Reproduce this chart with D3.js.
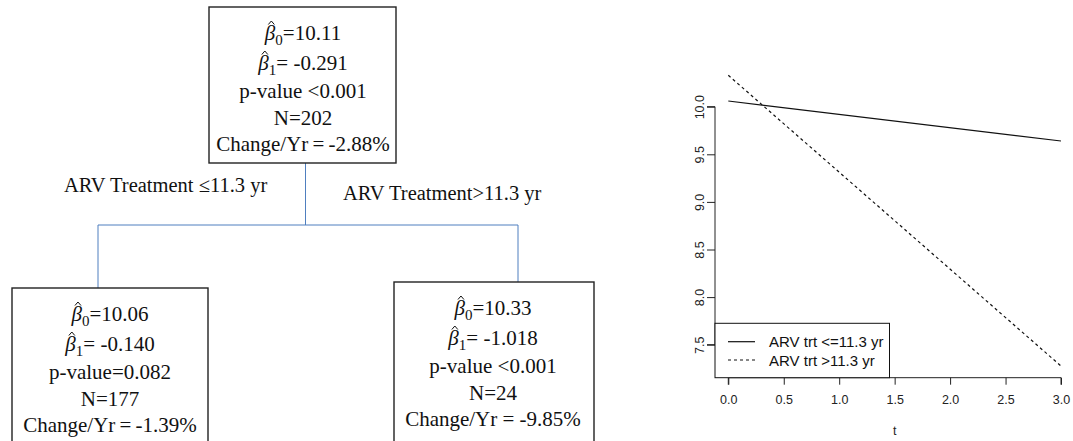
<!DOCTYPE html>
<html><head><meta charset="utf-8">
<script src="https://cdn.jsdelivr.net/npm/d3@7"></script>
<style>body{margin:0;background:#fff} svg{display:block}</style>
</head><body>
<svg id="chart" width="1073" height="441"></svg>
<script>
// Regression tree node estimates: root, ARV <= 11.3 yr, ARV > 11.3 yr
const nodeIds = ["root", "low", "high"];
const beta0 = [10.11, 10.06, 10.33];
const beta1 = [-0.291, -0.140, -1.018];
const pValue = [0.001, 0.082, 0.001];
const pOp = [" <", "=", " <"];
const nObs = [202, 177, 24];
const changePct = [-2.88, -1.39, -9.85];
const splitLabels = ["ARV Treatment \u226411.3 yr", "ARV Treatment>11.3 yr"];

// Fitted lines for the two leaf groups
const seriesNames = ["ARV trt <=11.3 yr", "ARV trt >11.3 yr"];
const seriesNode = [1, 2];
const tValues = [0, 3];
const xTicks = [0, 0.5, 1, 1.5, 2, 2.5, 3];
const yTicks = [7.5, 8, 8.5, 9, 9.5, 10];

const loc = d3.formatLocale({decimal: ".", thousands: ",", grouping: [3], currency: ["", ""], minus: "-"});
const f2 = loc.format(".2f"), f3 = loc.format(".3f"), f1 = loc.format(".1f");

const svg = d3.select("#chart");

// ---------- tree ----------
const boxes = {
  root: {x: 209, y: 7, w: 187, h: 156, cx: 303},
  low:  {x: 12, y: 288, w: 196, h: 200, cx: 110},
  high: {x: 394, y: 282, w: 200, h: 200, cx: 493}
};
const lineOffsets = [33, 63, 91, 118, 144];
const serif = "'Liberation Serif','Times New Roman',serif";
const linkColor = "#4f7fbf";

// connectors
const links = svg.append("g").attr("stroke", linkColor).attr("stroke-width", 1).attr("fill", "none");
const splitY = 225;
links.append("path").attr("d", d3.line()([[305.5, boxes.root.y + boxes.root.h], [305.5, splitY]]));
links.append("path").attr("d", d3.line()([[98, boxes.low.y], [98, splitY], [518, splitY], [518, boxes.high.y]]));

svg.append("g").attr("font-family", serif).attr("font-size", 20.5).attr("fill", "#111")
  .selectAll("text").data(splitLabels).join("text")
  .attr("x", (d, i) => [64, 343][i]).attr("y", (d, i) => [192, 200][i])
  .text(d => d);

nodeIds.forEach((id, i) => {
  const b = boxes[id];
  const g = svg.append("g").attr("font-family", serif).attr("font-size", 21).attr("fill", "#111");
  g.append("rect").attr("x", b.x).attr("y", b.y).attr("width", b.w).attr("height", b.h)
    .attr("fill", "#fff").attr("stroke", "#222").attr("stroke-width", 1.4);

  const betaLine = (k, sub, rest) => {
    const t = g.append("text").attr("x", b.cx).attr("y", b.y + lineOffsets[k]).attr("text-anchor", "middle");
    const bt = t.append("tspan").attr("font-style", "italic").text("\u03b2");
    t.append("tspan").attr("font-size", 15).attr("dy", 5).text(sub);
    t.append("tspan").attr("dy", -5).text(rest);
    const ext = t.node().getExtentOfChar(0);
    const hx = ext.x + ext.width * 0.62, hy = b.y + lineOffsets[k] - 19;
    g.append("path").attr("d", d3.line()([[hx - 3, hy + 3.5], [hx, hy], [hx + 3, hy + 3.5]]))
      .attr("fill", "none").attr("stroke", "#111").attr("stroke-width", 1);
  };
  betaLine(0, "0", "=" + f2(beta0[i]));
  betaLine(1, "1", "= " + f3(beta1[i]));
  const lines = [
    "p-value" + pOp[i] + f3(pValue[i]),
    "N=" + nObs[i],
    i === 2 ? "Change/Yr = " + f2(changePct[i]) + "%" : "Change/Yr\u2009=\u2009" + f2(changePct[i]) + "%"
  ];
  lines.forEach((s, j) => {
    g.append("text").attr("x", b.cx).attr("y", b.y + lineOffsets[j + 2]).attr("text-anchor", "middle").text(s);
  });
});

// ---------- line plot ----------
const sans = "'Liberation Sans',Arial,Helvetica,sans-serif";
const x = d3.scaleLinear().domain([0, 3]).range([728.3, 1061]);
const y = d3.scaleLinear().domain([7.5, 10]).range([344.7, 106.7]);
const plot = svg.append("g").attr("font-family", sans);

const xAxis = plot.append("g").attr("transform", "translate(0,377.7)")
  .call(d3.axisBottom(x).tickValues(xTicks).tickFormat(f1).tickSize(7).tickPadding(10));
const yAxis = plot.append("g").attr("transform", "translate(715,0)")
  .call(d3.axisLeft(y).tickValues(yTicks).tickFormat(f1).tickSize(8).tickPadding(5));
[xAxis, yAxis].forEach(a => {
  a.select(".domain").attr("stroke", "#222");
  a.selectAll(".tick line").attr("stroke", "#222");
  a.selectAll(".tick text").attr("fill", "#222").attr("font-size", 12.5);
});
// R-style axis lines span only first to last tick
xAxis.select(".domain").attr("d", `M${x(0)},7V0H${x(3)}V7`);
yAxis.select(".domain").attr("d", `M-8,${y(10)}H0V${y(7.5)}H-8`);
yAxis.selectAll(".tick text")
  .attr("text-anchor", "middle").attr("dy", null).attr("x", null)
  .attr("transform", "translate(-15,0) rotate(-90)").attr("dy", "0.35em");

plot.append("text").attr("x", x(1.5)).attr("y", 435).attr("text-anchor", "middle")
  .attr("font-size", 12.5).attr("fill", "#222").text("t");

const dashes = [null, "3,3"];
const line = d3.line().x(d => x(d.t)).y(d => y(d.v));
seriesNode.forEach((n, s) => {
  const pts = tValues.map(t => ({t, v: beta0[n] + beta1[n] * t}));
  plot.append("path").datum(pts).attr("d", line).attr("fill", "none")
    .attr("stroke", "#111").attr("stroke-width", 1.2).attr("stroke-dasharray", dashes[s]);
});

// legend
const lg = plot.append("g");
lg.append("rect").attr("x", 715).attr("y", 323.3).attr("width", 174.5).attr("height", 54.4)
  .attr("fill", "#fff").attr("stroke", "#111").attr("stroke-width", 1);
seriesNames.forEach((name, s) => {
  const ly = [341.7, 360][s];
  lg.append("line").attr("x1", 728).attr("x2", 755).attr("y1", ly).attr("y2", ly)
    .attr("stroke", "#111").attr("stroke-width", 1.2).attr("stroke-dasharray", dashes[s]);
  lg.append("text").attr("x", 769).attr("y", ly + 5.5).attr("font-size", 15).attr("fill", "#111").text(name);
});
</script>
</body></html>
